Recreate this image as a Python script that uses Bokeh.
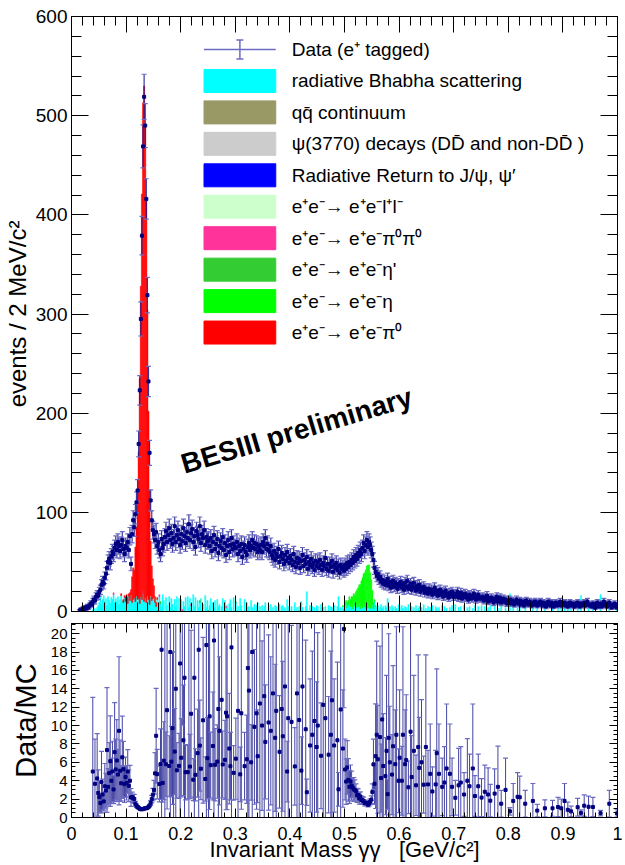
import math
import numpy as np
from bokeh.plotting import figure
from bokeh.layouts import column
from bokeh.models import Range1d, LinearAxis, FixedTicker, Label, CustomJSTickFormatter
from bokeh.core.properties import value
from bokeh.embed import file_html
from bokeh.resources import INLINE

FONT = "Liberation Sans"

# ---------------- data (2 MeV bins from 0 to 1 GeV) ----------------
BIN = 0.002
NBINS = 500

data_counts = [
    0, 0, 0, 0, 0, 0, 0, 1, 2, 1, 3, 2, 4, 3, 5, 4, 6, 8, 7, 10, 12, 11, 15, 17, 16,
    20, 22, 27, 30, 28, 34, 38, 44, 50, 53, 49, 56, 60, 58, 64, 68, 62, 70, 66, 61, 67, 72, 63, 58, 66,
    64, 70, 62, 76, 48, 78, 92, 85, 98, 110, 122, 169, 223, 295, 379, 469, 519, 490, 416, 319, 232, 160, 112, 92, 82,
    78, 72, 80, 66, 70, 62, 58, 73, 64, 68, 75, 81, 70, 77, 84, 72, 79, 68, 74, 86, 70, 77, 82, 73, 67,
    78, 71, 84, 76, 69, 80, 74, 88, 72, 79, 83, 70, 76, 65, 81, 77, 73, 86, 69, 78, 74, 82, 67, 75, 71,
    72, 66, 74, 61, 70, 77, 63, 68, 73, 59, 66, 71, 64, 75, 62, 69, 57, 66, 72, 60, 67, 74, 63, 68, 65,
    64, 70, 58, 66, 61, 68, 55, 63, 67, 60, 57, 65, 69, 62, 66, 72, 64, 69, 63, 68, 60, 66, 62, 67, 60,
    70, 66, 74, 63, 68, 62, 60, 66, 57, 54, 61, 52, 58, 55, 63, 50, 56, 59, 53, 48, 57, 51, 60, 54, 49,
    56, 52, 47, 58, 50, 45, 54, 49, 53, 44, 51, 57, 46, 52, 48, 55, 43, 50, 47, 53, 45, 49, 42, 51, 46,
    50, 44, 52, 47, 42, 49, 46, 54, 43, 48, 41, 48, 45, 51, 40, 47, 44, 49, 42, 46, 39, 47, 43, 45, 41,
    47, 43, 49, 45, 50, 47, 52, 49, 55, 51, 57, 53, 59, 56, 62, 58, 64, 69, 61, 67, 72, 65, 70, 67, 62,
    58, 52, 44, 40, 36, 38, 33, 35, 30, 32, 28, 31, 27, 29, 33, 26, 30, 24, 28, 31, 25, 29, 27, 23, 28,
    26, 30, 24, 27, 22, 29, 25, 31, 23, 26, 28, 22, 25, 29, 24, 21, 26, 23, 27, 20, 24, 22, 25, 19, 23,
    21, 18, 23, 19, 22, 17, 20, 24, 18, 21, 16, 19, 22, 17, 20, 15, 19, 21, 16, 18, 14, 19, 17, 20, 15,
    18, 15, 17, 20, 14, 16, 19, 13, 17, 15, 18, 14, 16, 12, 17, 15, 13, 16, 18, 14, 12, 15, 17, 13, 14,
    13, 15, 11, 14, 12, 16, 10, 13, 11, 14, 12, 9, 13, 11, 15, 10, 12, 14, 9, 11, 13, 10, 12, 8, 11,
    10, 12, 8, 11, 9, 7, 10, 12, 9, 8, 11, 7, 9, 10, 6, 9, 11, 8, 7, 10, 8, 6, 9, 7, 10,
    8, 6, 9, 7, 10, 8, 6, 9, 7, 5, 8, 10, 7, 6, 9, 8, 5, 7, 9, 6, 8, 7, 10, 6, 8,
    7, 9, 6, 8, 5, 7, 9, 6, 8, 7, 5, 8, 6, 9, 7, 5, 8, 6, 7, 9, 6, 8, 10, 7, 6,
    7, 5, 8, 6, 4, 7, 9, 5, 6, 8, 5, 7, 10, 6, 8, 5, 7, 9, 6, 4, 7, 5, 8, 6, 4,
]

bhabha = [
    0, 0, 0, 0, 0, 0, 0, 0, 0, 0, 0, 0, 0, 0, 0, 0, 0, 0, 0, 2, 0, 3, 0, 4, 6,
    9, 14, 7, 12, 16, 10, 13, 6, 15, 11, 8, 14, 12, 17, 9, 13, 10, 15, 7, 12, 16, 11, 9, 14, 10,
    13, 8, 15, 11, 17, 9, 12, 14, 10, 16, 11, 13, 8, 15, 12, 18, 10, 14, 9, 16, 12, 7, 15, 11, 13,
    14, 9, 5, 12, 0, 15, 8, 4, 17, 11, 0, 14, 6, 0, 15, 4, 13, 7, 0, 12, 5, 15, 0, 13, 4,
    12, 0, 10, 5, 14, 0, 15, 4, 13, 6, 0, 17, 5, 14, 0, 11, 4, 9, 13, 0, 7, 0, 16, 4, 11,
    0, 6, 13, 0, 9, 4, 11, 0, 12, 5, 7, 0, 5, 13, 0, 11, 4, 6, 0, 8, 12, 4, 0, 14, 0,
    9, 0, 5, 0, 13, 6, 0, 0, 12, 0, 9, 4, 5, 0, 11, 4, 0, 7, 0, 6, 9, 0, 5, 0, 6,
    0, 5, 9, 0, 0, 6, 0, 7, 0, 4, 0, 6, 5, 0, 0, 7, 0, 5, 6, 0, 4, 0, 12, 5, 0,
    0, 5, 0, 0, 9, 0, 4, 0, 5, 0, 10, 4, 0, 0, 5, 20, 0, 0, 6, 0, 5, 0, 4, 0, 6,
    5, 0, 0, 7, 0, 4, 0, 5, 0, 0, 6, 0, 5, 4, 0, 6, 0, 0, 5, 15, 0, 4, 0, 5, 0,
    6, 9, 4, 7, 12, 5, 8, 3, 10, 6, 4, 7, 5, 9, 3, 6, 4, 8, 5, 3, 6, 4, 5, 3, 4,
    7, 3, 10, 5, 4, 6, 0, 4, 7, 3, 5, 0, 6, 4, 13, 3, 5, 0, 6, 4, 0, 5, 3, 0, 7,
    4, 0, 6, 3, 0, 5, 4, 0, 7, 0, 3, 5, 0, 4, 0, 6, 0, 3, 5, 0, 4, 0, 7, 0, 3,
    0, 5, 0, 4, 0, 6, 0, 0, 5, 3, 0, 4, 0, 0, 6, 0, 5, 0, 3, 0, 0, 4, 0, 6, 0,
    0, 7, 0, 0, 4, 0, 5, 0, 0, 6, 0, 0, 4, 0, 5, 0, 0, 3, 0, 6, 0, 0, 5, 0, 0,
    6, 0, 0, 5, 0, 0, 4, 0, 6, 0, 0, 0, 5, 0, 0, 3, 0, 0, 6, 0, 0, 0, 4, 0, 0,
    0, 18, 0, 0, 5, 0, 0, 0, 4, 0, 5, 0, 0, 0, 0, 6, 0, 0, 0, 0, 0, 0, 5, 0, 0,
    0, 8, 0, 0, 0, 0, 0, 0, 7, 0, 0, 0, 0, 0, 0, 8, 0, 0, 0, 0, 7, 0, 0, 6, 0,
    0, 5, 0, 0, 6, 0, 0, 9, 0, 0, 0, 0, 0, 8, 0, 0, 16, 0, 0, 7, 0, 0, 0, 6, 0,
    0, 0, 7, 0, 0, 0, 0, 0, 0, 17, 0, 0, 0, 0, 0, 0, 0, 6, 0, 0, 0, 0, 0, 0, 9,
]

# e+e- -> e+e- pi0 (starts at 0.090 GeV)
pi0_start = 0.090
pi0 = [2, 0, 3, 1, 5, 4, 6, 3, 8, 5, 26, 32, 28, 55, 69, 95, 148, 227, 313, 409,
       492, 520, 476, 407, 288, 190, 116, 55, 35, 20, 12, 6, 4, 2, 1]

# e+e- -> e+e- eta (starts at 0.496 GeV)
eta_start = 0.496
eta = [1, 2, 3, 2, 5, 4, 3, 7, 7, 12, 8, 11, 16, 15, 19, 18, 24, 25, 30, 30,
       34, 39, 40, 43, 42, 36, 28, 14, 6, 2, 1]

# small contributions (bin centre, entries)
pi0pi0_x = [0.077, 0.097, 0.131, 0.161, 0.203, 0.219, 0.283]
pi0pi0_y = [2, 1, 3, 2, 2, 1, 1]
etap_x = [0.163, 0.187, 0.235, 0.251, 0.301]
etap_y = [2, 1, 2, 1, 1]
ll_x = [0.121, 0.145, 0.171]
ll_y = [1, 1, 1]
qq_x, qq_y = [], []
psi_x, psi_y = [], []
radret_x, radret_y = [], []

legend_labels = [
    "Data (e\u207a tagged)",
    "radiative Bhabha scattering",
    "qq\u0304 continuum",
    "\u03c8(3770) decays (DD\u0304 and non-DD\u0304 )",
    "Radiative Return to J/\u03c8, \u03c8\u2032",
    "e\u207ae\u207b\u2192 e\u207ae\u207bl\u207al\u207b",
    "e\u207ae\u207b\u2192 e\u207ae\u207b\u03c0\u2070\u03c0\u2070",
    "e\u207ae\u207b\u2192 e\u207ae\u207b\u03b7'",
    "e\u207ae\u207b\u2192 e\u207ae\u207b\u03b7",
    "e\u207ae\u207b\u2192 e\u207ae\u207b\u03c0\u2070",
]
legend_colors = ["#00ffff", "#999966", "#cccccc", "#0000ff", "#ccffcc",
                 "#ff3399", "#33cc33", "#00ff00", "#ff0000"]
# MC weights used for the MC statistical error
mc_weights = [5.0, 1.0, 1.0, 1.0, 1.0, 1.0, 1.0, 0.3, 0.3]

# ---------------- build histograms ----------------
edges = np.arange(NBINS + 1) * BIN
centers = edges[:-1] + BIN / 2
data = np.array(data_counts, dtype=float)[:NBINS]


def from_start(start, vals):
    arr = np.zeros(NBINS)
    i0 = int(round(start / BIN))
    arr[i0:i0 + len(vals)] = vals
    return arr


def from_points(xs, ys):
    arr = np.zeros(NBINS)
    for x, y in zip(xs, ys):
        arr[int(x / BIN)] += y
    return arr


comps = [
    np.array(bhabha, dtype=float)[:NBINS],
    from_points(qq_x, qq_y),
    from_points(psi_x, psi_y),
    from_points(radret_x, radret_y),
    from_points(ll_x, ll_y),
    from_points(pi0pi0_x, pi0pi0_y),
    from_points(etap_x, etap_y),
    from_start(eta_start, eta),
    from_start(pi0_start, pi0),
]

EBAR = "#14148c"
CAP = "#6b6bc4"
MARK = "#000080"

# ---------------- top panel ----------------
Y_TOP = 600.0
p1 = figure(width=625, height=623, output_backend="svg", toolbar_location=None,
            x_range=Range1d(0, 1), y_range=Range1d(0, Y_TOP),
            min_border_left=69, min_border_right=8, min_border_top=16, min_border_bottom=12)
p1.xgrid.visible = False
p1.ygrid.visible = False
p1.outline_line_color = "black"
p1.background_fill_color = "white"
p1.border_fill_color = "white"

cum = np.zeros(NBINS)
for vals, col in zip(comps, legend_colors):
    m = vals > 0
    if m.any():
        p1.quad(left=edges[:-1][m], right=edges[1:][m], bottom=cum[m], top=(cum + vals)[m],
                fill_color=col, line_color=col, line_width=0.5)
    cum = cum + vals
mc_total = cum

md = data > 0
err = np.sqrt(data)
p1.segment(x0=centers[md], y0=(data - err)[md], x1=centers[md], y1=(data + err)[md],
           line_color=EBAR, line_alpha=0.85, line_width=1.2)
p1.scatter(x=centers[md], y=(data + err)[md], marker="dash", size=5, line_color=CAP, line_width=1.2)
p1.scatter(x=centers[md], y=(data - err)[md], marker="dash", size=5, line_color=CAP, line_width=1.2)
p1.scatter(x=centers[md], y=data[md], marker="square", size=3, fill_color=MARK, line_color=MARK)

# legend (drawn by hand)
sy = 595.0 / Y_TOP          # px per unit
sx = 548.0                  # px per GeV


def ytop(px):
    return (611 - px) / sy


def xtop(px):
    return (px - 69) / sx


row_px = [49 + 31.45 * i for i in range(10)]
box_l, box_r = xtop(202), xtop(274)
half_h = 11.5 / sy
yc = [ytop(v) for v in row_px]
p1.quad(left=[box_l] * 9, right=[box_r] * 9,
        bottom=[y - half_h for y in yc[1:]], top=[y + half_h for y in yc[1:]],
        fill_color=legend_colors, line_color=legend_colors)
xm = (box_l + box_r) / 2
p1.segment(x0=[box_l], y0=[yc[0]], x1=[box_r], y1=[yc[0]], line_color=CAP, line_width=1.5)
p1.segment(x0=[xm], y0=[yc[0] - 9.5 / sy], x1=[xm], y1=[yc[0] + 9.5 / sy], line_color=CAP, line_width=1.5)
p1.scatter(x=[xm, xm], y=[yc[0] - 9.5 / sy, yc[0] + 9.5 / sy], marker="dash", size=7,
           line_color=CAP, line_width=1.5)
p1.text(x=[xtop(290)] * 10, y=yc, text=legend_labels, text_font=value(FONT),
        text_font_size="19px", text_baseline="middle", text_align="left", text_color="black")

p1.add_layout(Label(x=xtop(295), y=ytop(430), text="BESIII preliminary", angle=0.29,
                    text_align="center", text_baseline="middle", text_font=FONT,
                    text_font_size="28px", text_font_style="bold", text_color="black"))

# ---------------- bottom panel ----------------
Y_BOT = 21.1
p2 = figure(width=625, height=242, output_backend="svg", toolbar_location=None,
            x_range=Range1d(0, 1), y_range=Range1d(0, Y_BOT),
            min_border_left=69, min_border_right=8, min_border_top=0, min_border_bottom=48)
p2.xgrid.visible = False
p2.ygrid.visible = False
p2.outline_line_color = "black"
p2.background_fill_color = "white"
p2.border_fill_color = "white"

mc_var = np.zeros(NBINS)
for vals, w in zip(comps, mc_weights):
    mc_var = mc_var + w * vals
mr = (mc_total > 0) & (data > 0)
ratio = np.zeros(NBINS)
rerr = np.zeros(NBINS)
ratio[mr] = data[mr] / mc_total[mr]
rerr[mr] = ratio[mr] * np.sqrt(1.0 / data[mr] + mc_var[mr] / mc_total[mr] ** 2)
p2.segment(x0=centers[mr], y0=np.maximum(ratio - rerr, 0)[mr], x1=centers[mr], y1=(ratio + rerr)[mr],
           line_color=EBAR, line_alpha=0.8, line_width=1)
lo_ok = mr & (ratio - rerr > 0)
p2.scatter(x=centers[mr], y=(ratio + rerr)[mr], marker="dash", size=5, line_color=CAP, line_width=1.2)
p2.scatter(x=centers[lo_ok], y=(ratio - rerr)[lo_ok], marker="dash", size=5, line_color=CAP, line_width=1.2)
p2.scatter(x=centers[mr], y=ratio[mr], marker="square", size=3, fill_color=MARK, line_color=MARK)

# ---------------- axes ----------------
x_major = [round(0.1 * i, 1) for i in range(11)]
x_minor = [round(0.02 * i, 2) for i in range(51)]
x_labels = {v: ("0" if v == 0 else ("1" if v == 1 else str(v))) for v in x_major}


def style(ax, ticker, mj, mn, labels, size="18px", standoff=4):
    ax.ticker = ticker
    ax.major_tick_in = mj
    ax.major_tick_out = 0
    ax.minor_tick_in = mn
    ax.minor_tick_out = 0
    ax.axis_line_color = "black"
    ax.major_tick_line_color = "black"
    ax.minor_tick_line_color = "black"
    if labels:
        ax.major_label_text_font = FONT
        ax.major_label_text_font_size = size
        ax.major_label_text_color = "black"
        ax.major_label_standoff = standoff
    else:
        ax.formatter = CustomJSTickFormatter(code="return ''")
        ax.major_label_text_font_size = "1px"
        ax.major_label_standoff = 0


def title(ax, text, size, standoff):
    ax.axis_label = text
    ax.axis_label_text_font = FONT
    ax.axis_label_text_font_size = size
    ax.axis_label_text_font_style = "normal"
    ax.axis_label_text_color = "black"
    ax.axis_label_standoff = standoff


ty = FixedTicker(ticks=list(range(0, 601, 100)), minor_ticks=list(range(0, 601, 20)))
style(p1.left[0], ty, 17, 10, True, "19px", 4)
title(p1.left[0], "events / 2 MeV/c\u00b2", "24px", 2)
style(p1.below[0], FixedTicker(ticks=x_major, minor_ticks=x_minor), 16, 9, False)
ax_t = LinearAxis()
style(ax_t, FixedTicker(ticks=x_major, minor_ticks=x_minor), 16, 9, False)
p1.add_layout(ax_t, "above")
ax_r = LinearAxis()
style(ax_r, FixedTicker(ticks=list(range(0, 601, 100)), minor_ticks=list(range(0, 601, 20))), 17, 10, False)
p1.add_layout(ax_r, "right")

by = FixedTicker(ticks=list(range(0, 21, 2)), minor_ticks=[0.5 * i for i in range(43)])
style(p2.left[0], by, 8, 4, True, "15px", 4)
title(p2.left[0], "Data/MC", "29px", 6)
style(p2.below[0], FixedTicker(ticks=x_major, minor_ticks=x_minor), 9, 5, True, "18px", 9)
p2.below[0].major_label_overrides = x_labels
title(p2.below[0], "Invariant Mass \u03b3\u03b3\u00a0\u00a0\u00a0[GeV/c\u00b2]", "22px", -6)
ax_t2 = LinearAxis()
style(ax_t2, FixedTicker(ticks=x_major, minor_ticks=x_minor), 9, 5, False)
p2.add_layout(ax_t2, "above")
ax_r2 = LinearAxis()
style(ax_r2, FixedTicker(ticks=list(range(0, 21, 2)), minor_ticks=[0.5 * i for i in range(43)]), 8, 4, False)
p2.add_layout(ax_r2, "right")

layout = column(p1, p2, spacing=0)
open("out.html", "w").write(file_html(layout, INLINE))
